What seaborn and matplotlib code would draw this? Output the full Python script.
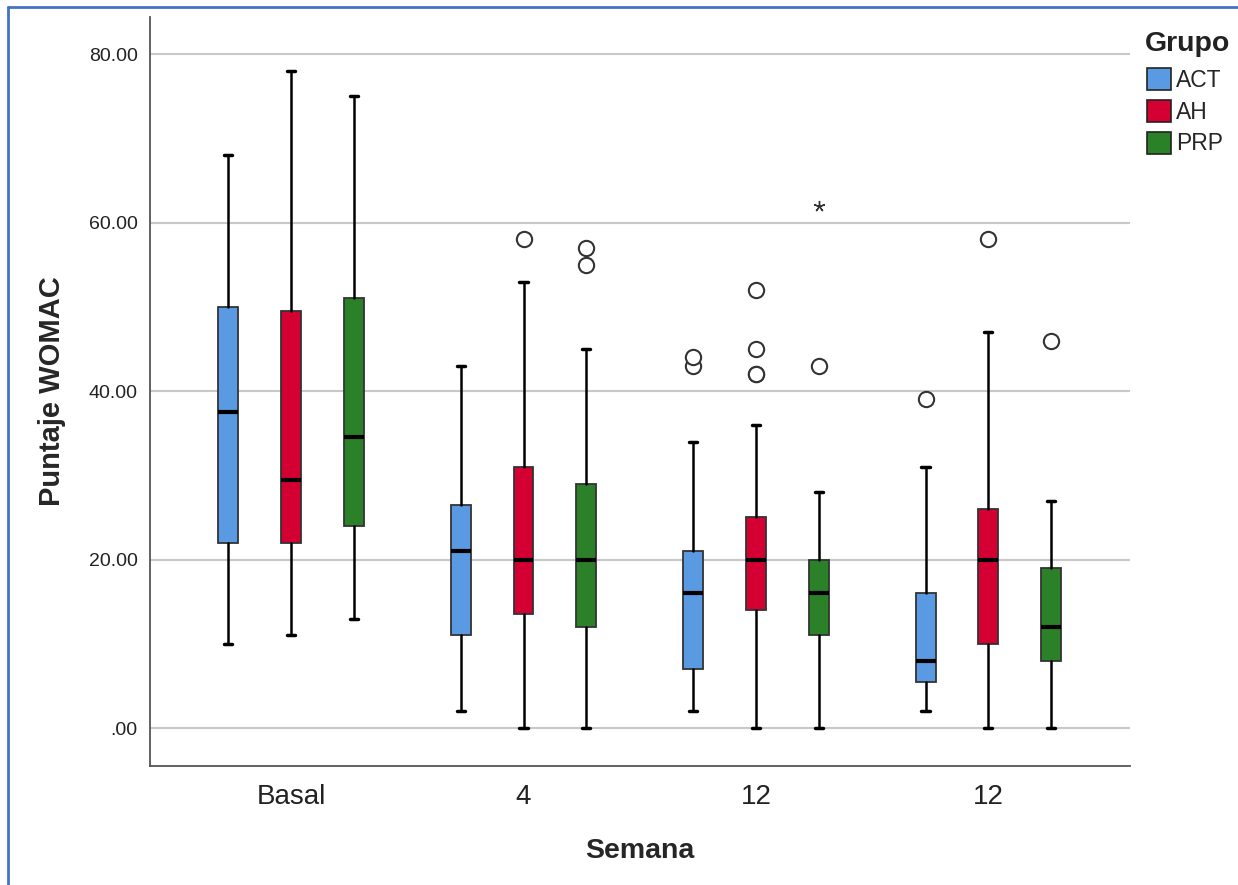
import numpy as np
import seaborn as sns
import matplotlib.pyplot as plt
from matplotlib.patches import Patch
from matplotlib.lines import Line2D

semanas = ["Basal", "4", "12", "12"]
grupos = ["ACT", "AH", "PRP"]
colores = ["#5A9AE3", "#D50032", "#2A8128"]

# five-number summaries per semana, per grupo (ACT, AH, PRP)
bigote_inf = [[10, 11, 13], [2, 0, 0], [2, 0, 0], [2, 0, 0]]
q1 = [[22, 22, 24], [11, 13.5, 12], [7, 14, 11], [5.5, 10, 8]]
mediana = [[37.5, 29.5, 34.5], [21, 20, 20], [16, 20, 16], [8, 20, 12]]
q3 = [[50, 49.5, 51], [26.5, 31, 29], [21, 25, 20], [16, 26, 19]]
bigote_sup = [[68, 78, 75], [43, 53, 45], [34, 36, 28], [31, 47, 27]]
atipicos = [[[], [], []],
            [[], [58], [55, 57]],
            [[43, 44], [42, 42, 45, 52], [43]],
            [[39], [58], [46]]]
extremos = [[[], [], []], [[], [], []], [[], [], [62]], [[], [], []]]

sns.set_style("white")
plt.rcParams['font.family'] = ['Liberation Sans', 'DejaVu Sans']

fig = plt.figure(figsize=(12.38, 8.85), dpi=100)
ax = fig.add_axes([0.1212, 0.1345, 0.7916, 0.8463])

dodge = 0.27
for i in range(len(semanas)):
    for j in range(len(grupos)):
        pos = i + (j - 1) * dodge
        st = [dict(whislo=bigote_inf[i][j], q1=q1[i][j], med=mediana[i][j],
                   q3=q3[i][j], whishi=bigote_sup[i][j], fliers=atipicos[i][j])]
        ax.bxp(st, positions=[pos], widths=0.086, capwidths=0.035, patch_artist=True,
               boxprops=dict(facecolor=colores[j], edgecolor="#333333", linewidth=1.3),
               medianprops=dict(color="black", linewidth=3),
               whiskerprops=dict(color="black", linewidth=1.8),
               capprops=dict(color="black", linewidth=2.5),
               flierprops=dict(marker="o", markersize=11, markerfacecolor="white",
                               markeredgecolor="#333333", markeredgewidth=1.5),
               manage_ticks=False)
        if extremos[i][j]:
            ax.plot([pos] * len(extremos[i][j]), extremos[i][j], marker=(5, 2, 0),
                    markersize=8, color="#333333", linestyle="none")

ax.set_xlim(-0.607, 3.61)
ax.set_ylim(-4.5, 84.4)
ax.set_xticks(range(len(semanas)))
ax.set_xticklabels(semanas, fontsize=20, color="#222222")
ax.set_yticks([0, 20, 40, 60, 80])
ax.set_yticklabels([".00", "20.00", "40.00", "60.00", "80.00"], fontsize=14, color="#222222")
ax.tick_params(axis="y", length=0, pad=9)
ax.tick_params(axis="x", length=0, pad=13)
ax.yaxis.grid(True, color="#C8C8C8", linewidth=1.5)
ax.set_axisbelow(True)
for s in ["top", "right"]:
    ax.spines[s].set_visible(False)
for s in ["left", "bottom"]:
    ax.spines[s].set_color("#555555")
    ax.spines[s].set_linewidth(1.3)

ax.set_xlabel("Semana", fontsize=20.5, fontweight="bold", labelpad=20)
ax.set_ylabel("Puntaje WOMAC", fontsize=21, fontweight="bold", labelpad=16)

# legend: title as its own text, entries below it
fig.text(1145 / 1238, 1 - 44 / 885, "Grupo", fontsize=20.5, fontweight="bold",
         color="#222222", ha="left", va="center")
handles = [Patch(facecolor=c, edgecolor="#222222", linewidth=1.2) for c in colores]
fig.legend(handles, grupos, loc="upper left", bbox_to_anchor=(1147 / 1238, 1 - 68 / 885),
           frameon=False, fontsize=16.5, handlelength=1.05, handleheight=1.1,
           handletextpad=0.2, labelspacing=0.35, borderpad=0, borderaxespad=0)

# blue frame on the left and top
fig.add_artist(Line2D([0.0065, 0.0065], [0, 0.992], transform=fig.transFigure,
                      color="#4472C4", linewidth=2))
fig.add_artist(Line2D([0.0065, 1], [0.992, 0.992], transform=fig.transFigure,
                      color="#4472C4", linewidth=2))

fig.savefig("out.png", dpi=100)
